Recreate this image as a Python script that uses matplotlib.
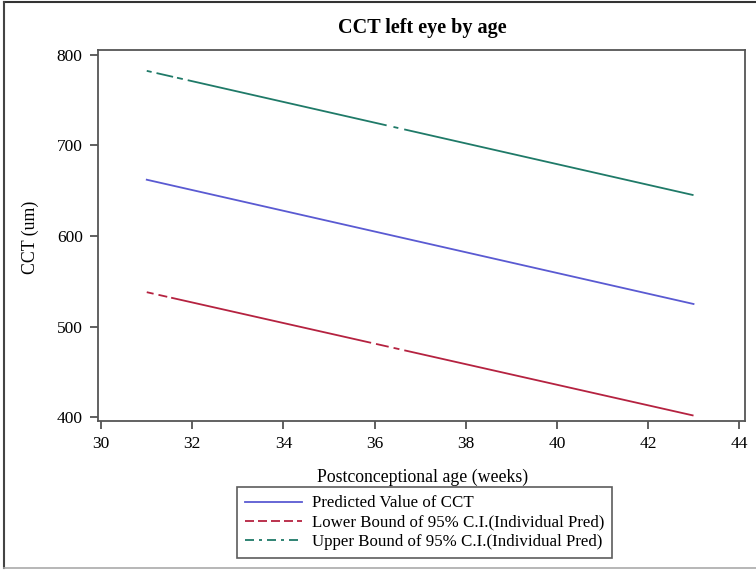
import numpy as np
import matplotlib
matplotlib.use("Agg")
import matplotlib.pyplot as plt
from matplotlib.lines import Line2D

plt.rcParams['font.family'] = ['Liberation Serif', 'DejaVu Serif']
plt.rcParams['lines.scale_dashes'] = False

# data
age = [31, 43]
pred = [662, 525]
lower = [538, 402]
upper = [782, 645]
xticks = [30, 32, 34, 36, 38, 40, 42, 44]
yticks = [400, 500, 600, 700, 800]

col_pred = '#5a5ad2'
col_low = '#b52240'
col_up = '#1f7a68'

fig = plt.figure(figsize=(7.56, 5.71), dpi=100)
ax = fig.add_axes([98 / 756, 1 - 421 / 571, 647 / 756, 371 / 571])

# dash patterns (points) mimic the mostly-solid SAS rendering
px = 72 / 100
low_dash = [v * px for v in [7, 5, 9, 4, 205, 5, 13, 5, 6, 5, 400, 1]]
up_dash = [v * px for v in [5, 5, 17, 4, 6, 5, 204, 7, 5, 6, 400, 1]]

ax.plot(age, pred, color=col_pred, lw=1.3, label='Predicted Value of CCT')
l1, = ax.plot(age, lower, color=col_low, lw=1.3,
              label='Lower Bound of 95% C.I.(Individual Pred)')
l1.set_dashes(low_dash)
l2, = ax.plot(age, upper, color=col_up, lw=1.3,
              label='Upper Bound of 95% C.I.(Individual Pred)')
l2.set_dashes(up_dash)

ax.set_xlim(29.93, 44.13)
ax.set_ylim(396, 805)
ax.set_xticks(xticks)
ax.set_yticks(yticks)
ax.tick_params(direction='out', length=6, width=1.2, color='#444444',
               labelsize=12.5, pad=5)
for s in ax.spines.values():
    s.set_color('#555555')
    s.set_linewidth(1.3)

fig.text(0.5585, 1 - 28 / 571, 'CCT left eye by age', ha='center',
         va='center', fontsize=14.5, fontweight='bold')
fig.text(0.5585, 1 - 477 / 571, 'Postconceptional age (weeks)', ha='center',
         va='center', fontsize=12.8)
fig.text(30 / 756, 1 - 237 / 571, 'CCT (um)', ha='center', va='center',
         rotation=90, fontsize=12.8)

# legend with custom handles (legend handles drawn short, dashed)
h = [Line2D([], [], color=col_pred, lw=1.3),
     Line2D([], [], color=col_low, lw=1.3, dashes=(9 * px, 4 * px)),
     Line2D([], [], color=col_up, lw=1.3, dashes=(9 * px, 5 * px, 3 * px, 5 * px))]
leg = fig.legend(h, [l.get_label() for l in ax.get_lines()],
                 loc='upper left', bbox_to_anchor=(237 / 756, 1 - 487 / 571),
                 fontsize=12.2, frameon=True, fancybox=False, handlelength=3.35,
                 handletextpad=0.55, borderpad=0.5, labelspacing=0.18,
                 borderaxespad=0)
leg.get_frame().set_edgecolor('#333333')
leg.get_frame().set_linewidth(1.2)

# outer picture border
fig.add_artist(Line2D([4 / 756, 1], [1 - 2 / 571, 1 - 2 / 571], color='#333333', lw=1.5))
fig.add_artist(Line2D([4 / 756, 4 / 756], [1 - 2 / 571, 1 - 568 / 571], color='#444444', lw=1.5))
fig.add_artist(Line2D([4 / 756, 1], [1 - 568 / 571, 1 - 568 / 571], color='#aaaaaa', lw=1.2))

fig.savefig('out.png', dpi=100)
